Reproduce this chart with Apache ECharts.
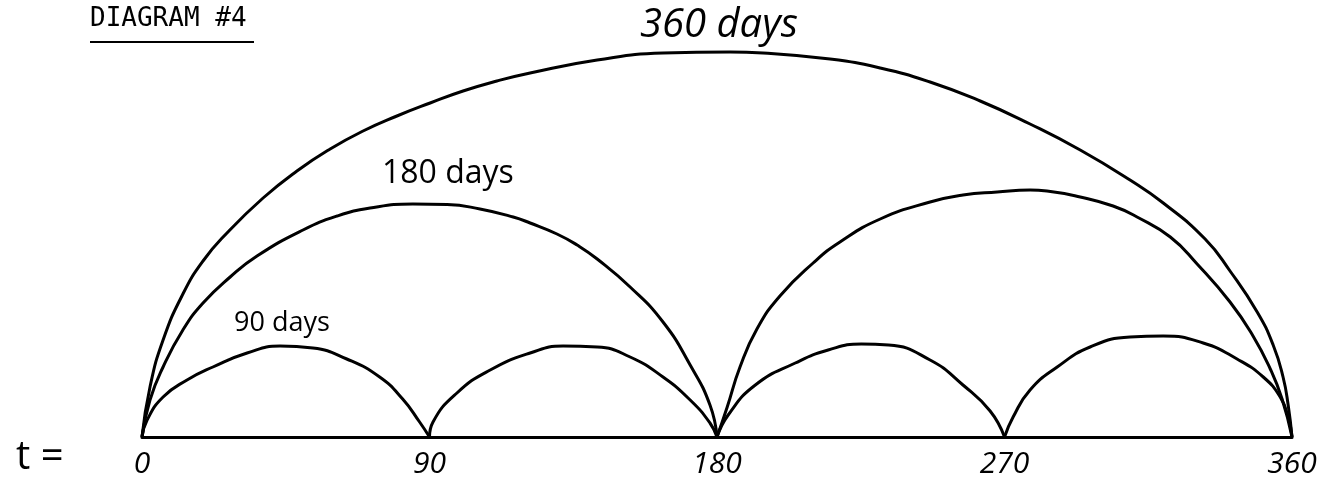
<!DOCTYPE html>
<html>
<head>
<meta charset="utf-8">
<script src="https://cdn.jsdelivr.net/npm/echarts@6/dist/echarts.min.js"></script>
<style>html,body{margin:0;padding:0;background:#fff;}#c{width:1322px;height:491px;}</style>
</head>
<body>
<div id="c"></div>
<script>
// Axis ticks (t in days)
const tickValues = [0, 90, 180, 270, 360];

// 360-day arc (t, height)
const arc360T = [0, 2.5, 6.6, 12.8, 19.1, 26.6, 37.9, 48.5, 58.9, 69.2, 79.8, 90.2, 100.5, 111.1, 121.5, 142.5, 163.1, 184.1, 194.4, 215.4, 231.1, 246.7, 262.4, 278.0, 293.7, 309.3, 319.7, 332.8, 340.6, 349.1, 354.1, 357.2, 358.8, 360];
const arc360H = [0, 50, 97, 143, 176, 204, 239, 266, 288, 306, 321, 334, 346, 356, 364, 377, 384, 385, 384, 378, 369, 355, 336, 313, 287, 257, 234, 198, 166, 125, 92, 60, 32, 0];

// 180-day arcs
const arc180aT = [0, 2.5, 6.6, 12.8, 19.1, 27.6, 36.0, 50.4, 61.1, 71.4, 84.8, 95.5, 105.8, 116.2, 121.5, 129.9, 136.2, 142.5, 152.8, 163.1, 171.6, 177.8, 180];
const arc180aH = [0, 37, 70, 107, 134, 160, 181, 207, 221, 229, 233, 232.5, 228, 220, 214, 203, 192, 178, 150, 115, 72, 32, 0];
const arc180bT = [180, 183.2, 187.2, 192.5, 199.7, 210.1, 218.5, 231.1, 246.7, 257.0, 267.7, 278.0, 283.3, 293.7, 304.0, 311.5, 321.9, 330.3, 340.6, 347.8, 353.2, 356.9, 360];
const arc180bH = [0, 30, 70, 108, 141, 174, 195, 218, 235, 242, 245, 247, 246, 240, 231, 220, 200, 173, 135, 101, 68, 38, 0];

// 90-day arcs
const arc90aT = [0, 1.6, 6.6, 14.1, 22.2, 32.9, 43.2, 53.5, 64.1, 74.4, 81.6, 86.9, 90];
const arc90aH = [0, 17, 40, 57, 70, 84, 91, 89, 78, 60, 38, 15, 0];
const arc90bT = [90, 91.1, 98.6, 109.0, 121.5, 131.8, 142.5, 152.8, 163.1, 171.6, 177.8, 180];
const arc90bH = [0, 15, 44, 67, 84, 91, 90, 80, 60, 37, 14, 0];
const arc90cT = [180, 183.5, 192.0, 204.5, 214.8, 225.2, 233.7, 246.7, 257.0, 265.5, 270];
const arc90cH = [0, 22, 52, 74, 87, 93, 92, 77, 52, 26, 0];
const arc90dT = [270, 272.7, 278.0, 286.5, 296.8, 309.3, 319.7, 332.2, 342.8, 351.0, 356.3, 358.8, 360];
const arc90dH = [0, 20, 47, 70, 90, 100, 101, 94, 78, 60, 40, 20, 0];

const arcs = [
  [arc360T, arc360H], [arc180aT, arc180aH], [arc180bT, arc180bH],
  [arc90aT, arc90aH], [arc90bT, arc90bH], [arc90cT, arc90cH], [arc90dT, arc90dH]
];

const hand = '"Open Sans", "DejaVu Sans", sans-serif';

const chart = echarts.init(document.getElementById('c'), null, {renderer: 'canvas'});
chart.setOption({
  backgroundColor: '#ffffff',
  animation: false,
  grid: {left: 142, right: 30, top: 0, bottom: 54},
  xAxis: {
    type: 'value', min: 0, max: 360, interval: 90,
    axisLine: {show: true, lineStyle: {color: '#000', width: 3}},
    axisTick: {show: false},
    splitLine: {show: false},
    axisLabel: {
      show: true, color: '#000', fontSize: 30, fontStyle: 'italic',
      fontFamily: hand, margin: 12
    }
  },
  yAxis: {
    type: 'value', min: 0, max: 437,
    show: false, splitLine: {show: false}
  },
  series: arcs.map(([t, h]) => ({
    type: 'line',
    data: t.map((v, i) => [v, h[i]]),
    showSymbol: false,
    smooth: 0.5,
    lineStyle: {color: '#000', width: 3},
    silent: true
  })),
  graphic: [
    {type: 'text', left: 90, top: 6, style: {text: 'DIAGRAM #4', fontFamily: '"DejaVu Sans Mono", monospace', fontSize: 26, fill: '#000'}},
    {type: 'rect', shape: {x: 90, y: 41, width: 164, height: 2}, style: {fill: '#000'}},
    {type: 'text', left: 16, top: 438, style: {text: 't =', fontFamily: hand, fontSize: 40, fill: '#000'}},
    {type: 'text', left: 640, top: 6, style: {text: '360 days', fontFamily: hand, fontSize: 40, fontStyle: 'italic', fill: '#000'}},
    {type: 'text', left: 382, top: 158, style: {text: '180 days', fontFamily: hand, fontSize: 32, fill: '#000'}},
    {type: 'text', left: 234, top: 310, style: {text: '90 days', fontFamily: hand, fontSize: 27, fill: '#000'}}
  ]
});
</script>
</body>
</html>
